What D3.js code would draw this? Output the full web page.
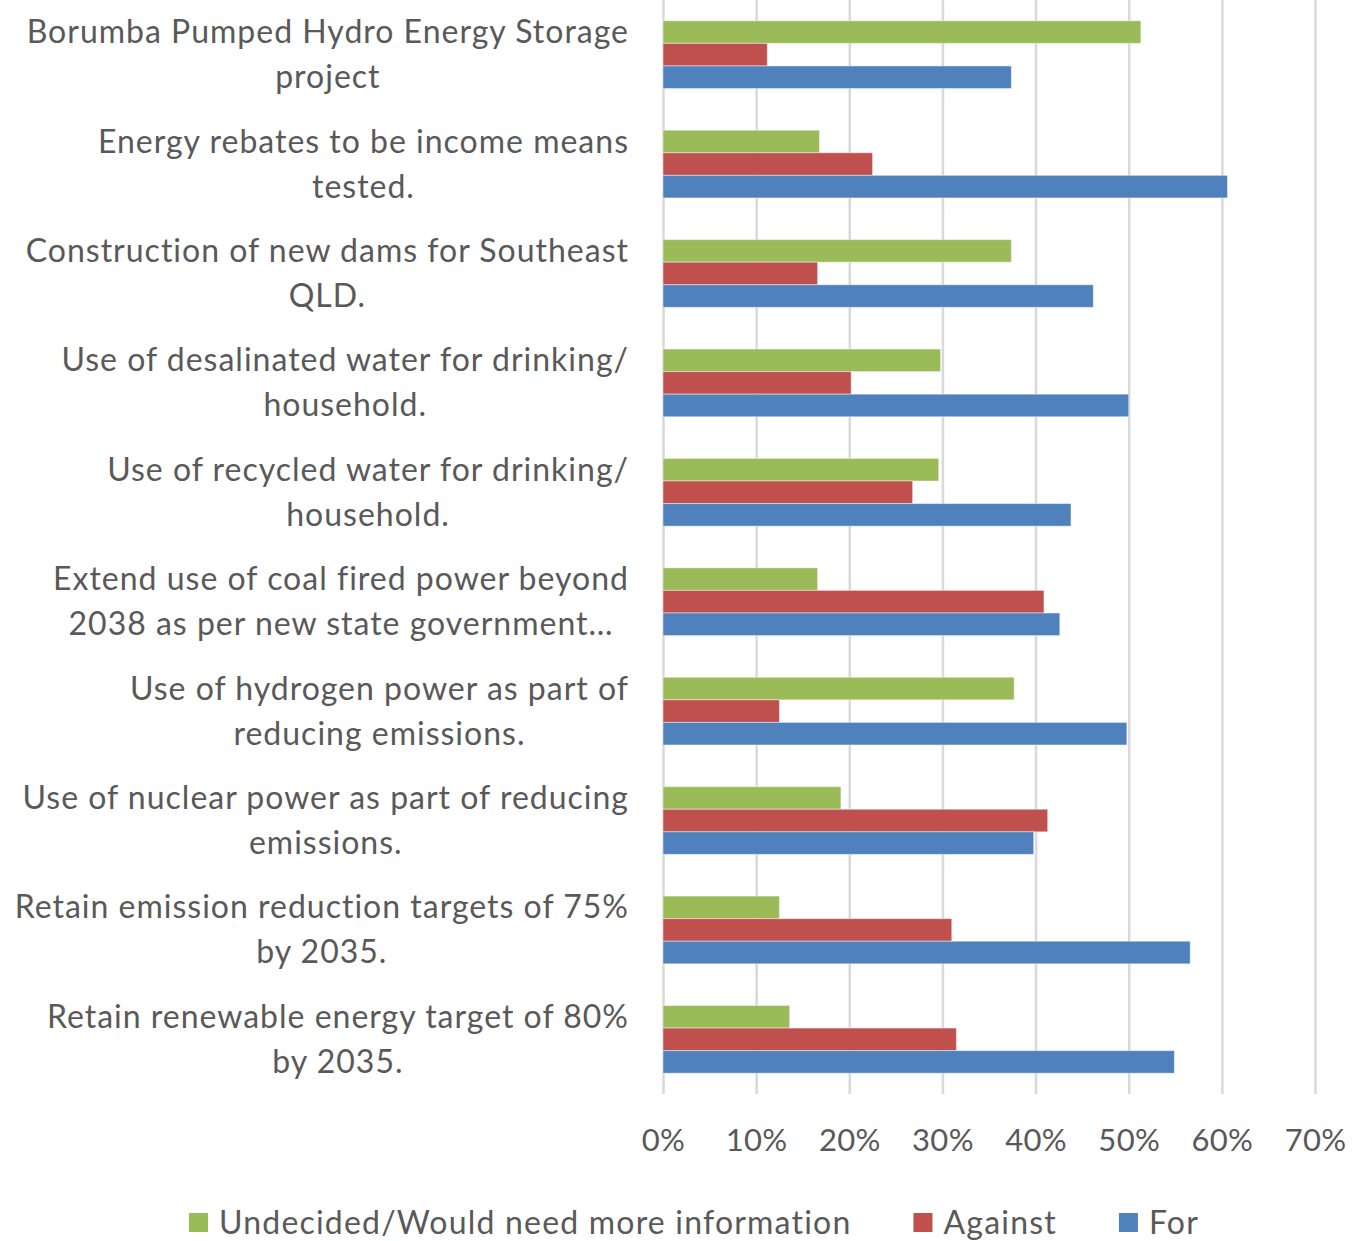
<!DOCTYPE html>
<html>
<head>
<meta charset="utf-8">
<script src="https://cdn.jsdelivr.net/npm/d3@7"></script>
<style>
  body { margin: 0; background: #fff; }
  svg { display: block; font-family: Lato, "Open Sans", sans-serif; }
</style>
</head>
<body>
<svg width="1362" height="1241"></svg>
<script>
// category labels, already wrapped the way the chart shows them
var categories = [
  ["Borumba Pumped Hydro Energy Storage", "project"],
  ["Energy rebates to be income means", "tested."],
  ["Construction of new dams for Southeast", "QLD."],
  ["Use of desalinated water for drinking/", "household."],
  ["Use of recycled water for drinking/", "household."],
  ["Extend use of coal fired power beyond", "2038 as per new state government\u2026"],
  ["Use of hydrogen power as part of", "reducing emissions."],
  ["Use of nuclear power as part of reducing", "emissions."],
  ["Retain emission reduction targets of 75%", "by 2035."],
  ["Retain renewable energy target of 80%", "by 2035."]
]

var undecided = [51.3, 16.8, 37.4, 29.8, 29.6, 16.6, 37.7, 19.1, 12.5, 13.6]
var against   = [11.2, 22.5, 16.6, 20.2, 26.8, 40.9, 12.5, 41.3, 31.0, 31.5]
var forVals   = [37.4, 60.6, 46.2, 50.0, 43.8, 42.6, 49.8, 39.8, 56.6, 54.9]

var seriesNames = ["Undecided/Would need more information", "Against", "For"]
var seriesColors = ["#9BBB59", "#C0504D", "#4F81BD"]
var xTicks = [0, 10, 20, 30, 40, 50, 60, 70]

var margin = {top: 0, left: 663, right: 47}
var plotH = 1094
var textColor = "#595959"
var fontSize = 32

var svg = d3.select("svg")

var series = [undecided, against, forVals]

var x = d3.scaleLinear()
  .domain([0, 70])
  .range([margin.left, 1362 - margin.right])

var y = d3.scaleBand()
  .domain(d3.range(categories.length))
  .range([margin.top, margin.top + plotH])
  .paddingInner(0.381)
  .paddingOuter(0.19)

var ySub = d3.scaleBand()
  .domain(d3.range(series.length))
  .range([0, y.bandwidth()])

// gridlines
var grid = g => g
  .attr("transform", `translate(0,${margin.top + plotH})`)
  .call(d3.axisBottom(x).tickValues(xTicks).tickSize(-plotH).tickFormat(""))
  .call(g => g.select(".domain").remove())
  .call(g => g.selectAll(".tick line").attr("stroke", "#d9d9d9").attr("stroke-width", 2.5))

svg.append("g").call(grid)

// tick labels
var xAxis = g => g
  .attr("transform", `translate(0,${margin.top + plotH})`)
  .call(d3.axisBottom(x).tickValues(xTicks).tickSize(0).tickPadding(35).tickFormat(d => d + "%"))
  .call(g => g.select(".domain").remove())
  .call(g => g.selectAll(".tick text")
    .attr("fill", textColor)
    .attr("font-size", 31)
    .attr("letter-spacing", 0.3)
    .attr("font-family", "Lato, 'Open Sans', sans-serif"))

svg.append("g").call(xAxis)

// bars
var groups = svg.append("g")
  .selectAll("g")
  .data(categories)
  .join("g")
  .attr("transform", (d, i) => `translate(0,${y(i)})`)

groups.selectAll("rect")
  .data((d, i) => series.map((s, k) => ({k: k, v: s[i]})))
  .join("rect")
  .attr("x", x(0))
  .attr("y", d => ySub(d.k))
  .attr("height", ySub.bandwidth())
  .attr("width", d => x(d.v) - x(0))
  .attr("fill", d => seriesColors[d.k])
  .attr("stroke", "#ffffff")
  .attr("stroke-opacity", 0.45)
  .attr("stroke-width", 1)

// category labels: lines centred on each other, block right-aligned
var labelRight = 629
var lineGap = 45
var labels = svg.append("g")
  .selectAll("g")
  .data(categories)
  .join("g")

labels.each(function(lines, i) {
  var g = d3.select(this)
  var cy = y(i) + y.bandwidth() / 2
  var texts = g.selectAll("text")
    .data(lines)
    .join("text")
    .attr("text-anchor", "middle")
    .attr("fill", textColor)
    .attr("font-size", fontSize)
    .attr("letter-spacing", 1)
    .attr("y", (d, j) => cy + (j - (lines.length - 1) / 2) * lineGap + 11)
    .text(d => d)
  var w = d3.max(texts.nodes(), n => n.getComputedTextLength())
  texts.attr("x", labelRight - w / 2)
})

// legend
var legendGap = 62
var legend = svg.append("g")
var items = legend.selectAll("g")
  .data(seriesNames)
  .join("g")

items.append("rect")
  .attr("width", 19)
  .attr("height", 19)
  .attr("y", 1213)
  .attr("fill", (d, i) => seriesColors[i])

items.append("text")
  .attr("x", 30)
  .attr("y", 1234)
  .attr("fill", textColor)
  .attr("font-size", fontSize)
  .attr("letter-spacing", 1.2)
  .text(d => d)

var pos = 0, offsets = []
items.each(function(d, i) {
  offsets.push(pos)
  pos += 30 + d3.select(this).select("text").node().getComputedTextLength() + legendGap
})
var total = pos - legendGap
var startX = 694 - total / 2
items.attr("transform", (d, i) => `translate(${startX + offsets[i]},0)`)
</script>
</body>
</html>
